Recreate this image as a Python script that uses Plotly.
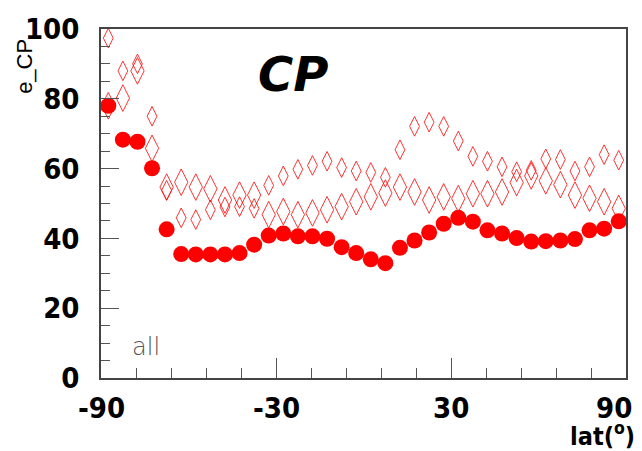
import plotly.graph_objects as go

# bin centres (latitude, degrees)
lat = [-87.5 + 5 * i for i in range(36)]

# filled circles: e_CP, all
e_all = [78.0, 68.3, 67.7, 60.1, 42.6, 35.5, 35.4, 35.4, 35.4, 35.8, 38.2, 40.8,
         41.4, 40.6, 40.6, 39.9, 37.5, 35.8, 34.0, 32.9, 37.3, 39.4, 41.7, 44.2,
         45.9, 44.8, 42.3, 41.4, 40.1, 39.1, 39.2, 39.4, 39.8, 42.3, 42.8, 44.9]

# open diamonds, small series
e_small = [97.4, 88.0, 90.0, 75.0, 53.8, 45.9, 45.4, 48.2, 49.0, 49.1, 48.6, 55.2,
           57.9, 59.8, 60.9, 62.1, 60.3, 59.3, 58.9, 57.5, 65.4, 72.1, 73.3, 72.1,
           67.9, 63.5, 62.1, 60.5, 59.1, 59.5, 62.8, 62.6, 59.3, 60.5, 64.0, 62.4]

# open diamonds, large series
e_large = [78.0, 80.2, 88.0, 65.8, 54.7, 56.1, 54.7, 54.2, 51.0, 52.4, 52.4, 46.8,
           47.7, 46.8, 47.3, 48.2, 49.1, 50.5, 51.9, 53.0, 54.7, 53.3, 51.0, 51.9,
           51.4, 52.8, 52.8, 53.3, 56.0, 57.9, 56.5, 55.4, 52.4, 51.5, 50.5, 48.6]

x_ticks = [-90, -30, 30, 90]
y_ticks = [0, 20, 40, 60, 80, 100]

fig = go.Figure()
fig.add_trace(go.Scatter(x=lat, y=e_large, mode="markers",
                         marker=dict(symbol="diamond-tall-open", size=19,
                                     color="rgba(255,0,0,0.8)",
                                     line=dict(width=1, color="rgba(255,0,0,0.8)"))))
fig.add_trace(go.Scatter(x=lat, y=e_small, mode="markers",
                         marker=dict(symbol="diamond-tall-open", size=14,
                                     color="rgba(255,0,0,0.8)",
                                     line=dict(width=1, color="rgba(255,0,0,0.8)"))))
fig.add_trace(go.Scatter(x=lat, y=e_all, mode="markers",
                         marker=dict(symbol="circle", size=16, color="#ff0000",
                                     line=dict(width=0))))

narrow = "DejaVu Sans Condensed, Liberation Sans Narrow, Liberation Sans, sans-serif"
tickfont = dict(family=narrow, size=29, color="black", weight="bold")

annotations = [
    dict(text="CP", x=-24.2, y=87.0, xref="x", yref="y", showarrow=False,
         xanchor="center", yanchor="middle",
         font=dict(family="DejaVu Sans", size=48, color="black",
                   weight="bold", style="italic")),
    dict(text="all", x=-74.5, y=9.0, xref="x", yref="y", showarrow=False,
         xanchor="center", yanchor="middle",
         font=dict(family="DejaVu Sans", size=24, color="#555", weight=200)),
    dict(text="e_CP", x=-0.145, y=0.894, xref="paper", yref="paper",
         showarrow=False, textangle=-90, xanchor="center", yanchor="middle",
         font=dict(family="Liberation Sans", size=22, color="black")),
    dict(text="lat(<sup>o</sup>)", x=0.955, y=-0.163, xref="paper", yref="paper",
         showarrow=False, xanchor="center", yanchor="middle",
         font=dict(family=narrow, size=25, color="black", weight="bold")),
]
for v in x_ticks:
    shift = -12 if v == 90 else 0
    annotations.append(dict(text=str(v), x=v, y=0, xref="x", yref="paper",
                            yshift=-30, xshift=shift, showarrow=False,
                            xanchor="center", yanchor="middle", font=tickfont))

fig.update_layout(
    width=642, height=451,
    margin=dict(l=101, r=16, t=19, b=73),
    paper_bgcolor="white", plot_bgcolor="white",
    showlegend=False,
    xaxis=dict(range=[-90, 90], tickmode="array", tickvals=x_ticks,
               showticklabels=False,
               ticks="inside", ticklen=20, tickwidth=1, tickcolor="#555",
               minor=dict(dtick=12, tick0=-90, ticks="inside", ticklen=10,
                          tickwidth=1, tickcolor="#555"),
               showline=True, linecolor="#444", linewidth=1.5, mirror=True,
               showgrid=False, zeroline=False),
    yaxis=dict(range=[0, 100], tickmode="array", tickvals=y_ticks,
               ticks="inside", ticklen=18, tickwidth=1, tickcolor="#555",
               minor=dict(dtick=5, tick0=0, ticks="inside", ticklen=9,
                          tickwidth=1, tickcolor="#555"),
               showline=True, linecolor="#444", linewidth=1.5, mirror=True,
               showgrid=False, zeroline=False, tickfont=tickfont, ticklabelstandoff=14),
    annotations=annotations,
)

fig.write_html("out.html")
